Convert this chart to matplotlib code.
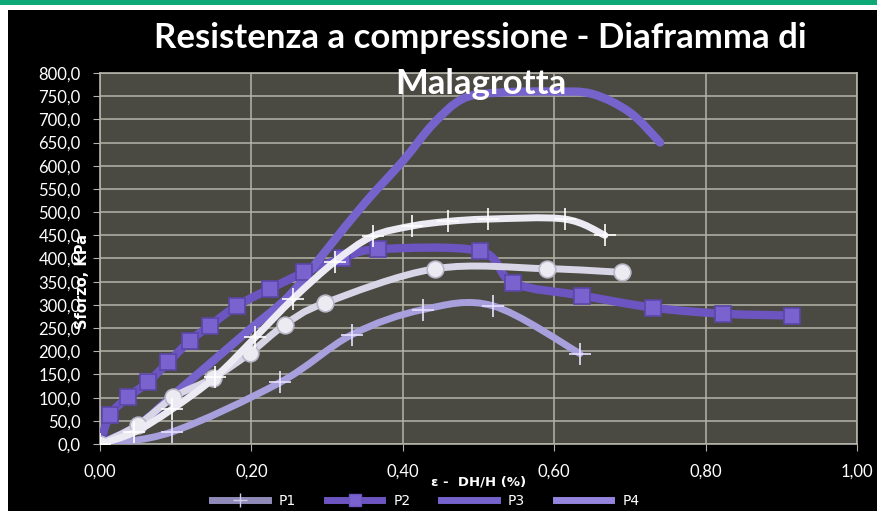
import matplotlib
matplotlib.use("Agg")
import matplotlib.pyplot as plt
import numpy as np
from matplotlib.path import Path
from matplotlib.patches import PathPatch, Rectangle
from matplotlib.lines import Line2D
from matplotlib.ticker import MultipleLocator, FuncFormatter

# valori
p1_x = [0, 0.095, 0.238, 0.333, 0.427, 0.519, 0.634]
p1_y = [0, 26, 133, 236, 290, 298, 195]

p2_x = [0, 0.013, 0.037, 0.063, 0.090, 0.119, 0.145, 0.181, 0.225, 0.27,
        0.32, 0.367, 0.502, 0.546, 0.637, 0.731, 0.823, 0.914]
p2_y = [0, 62, 101, 133, 176, 223, 255, 298, 335, 370,
        400, 420, 416, 347, 320, 294, 281, 277]

p3_x = [0, 0.05, 0.10, 0.15, 0.20, 0.25, 0.30, 0.35, 0.40, 0.44,
        0.48, 0.53, 0.60, 0.65, 0.70, 0.74]
p3_y = [0, 40, 110, 180, 250, 320, 420, 520, 610, 690,
        745, 758, 760, 755, 715, 650]

p5_x = [0, 0.05, 0.097, 0.149, 0.198, 0.244, 0.297, 0.443, 0.590, 0.69]
p5_y = [0, 41, 101, 142, 196, 257, 304, 378, 378, 370]

p6_x = [0, 0.045, 0.095, 0.152, 0.205, 0.255, 0.31, 0.36, 0.412, 0.46,
        0.513, 0.614, 0.667]
p6_y = [0, 25, 75, 144, 230, 313, 393, 448, 470, 480,
        485, 485, 450]


def smooth_path(xs, ys):
    # curva liscia tipo Excel (Catmull-Rom -> Bezier)
    p = np.column_stack([xs, ys]).astype(float)
    verts = [p[0]]
    codes = [Path.MOVETO]
    n = len(p)
    for i in range(n - 1):
        p0 = p[i - 1] if i > 0 else p[i]
        p1 = p[i]
        p2 = p[i + 1]
        p3 = p[i + 2] if i + 2 < n else p[i + 1]
        c1 = p1 + (p2 - p0) / 6.0
        c2 = p2 - (p3 - p1) / 6.0
        verts += [c1, c2, p2]
        codes += [Path.CURVE4] * 3
    return Path(verts, codes)


def serie(ax, xs, ys, color, lw, marker=None, ms=10, mfc=None, mec=None, z=3):
    ax.add_patch(PathPatch(smooth_path(xs, ys), fill=False, edgecolor=color,
                           lw=lw, capstyle='round', joinstyle='round', zorder=z))
    if marker:
        ax.plot(xs, ys, linestyle='none', marker=marker, ms=ms,
                mfc=mfc or color, mec=mec or color, mew=1.2, zorder=z + 0.5)


fig = plt.figure(figsize=(8.78, 5.11), dpi=100)
fig.patch.set_facecolor('white')
fig.patches.append(Rectangle((8 / 878, 0), 1, 501 / 511, transform=fig.transFigure,
                             facecolor='black', edgecolor='none', zorder=-5))
fig.patches.append(Rectangle((0, 506 / 511), 1, 5 / 511, transform=fig.transFigure,
                             facecolor='#0ea877', edgecolor='none', zorder=-5))

ax = fig.add_axes([100 / 878, 67 / 511, 757 / 878, 371 / 511])
ax.set_facecolor('#4a4a42')

ax.set_xlim(0, 1)
ax.set_ylim(0, 800)
ax.xaxis.set_major_locator(MultipleLocator(0.2))
ax.yaxis.set_major_locator(MultipleLocator(50))
ax.xaxis.set_major_formatter(FuncFormatter(lambda v, p: f"{v:.2f}".replace('.', ',')))
ax.yaxis.set_major_formatter(FuncFormatter(lambda v, p: f"{v:.1f}".replace('.', ',')))
ax.grid(True, color='#b4b4aa', lw=1.1, zorder=1)
ax.set_axisbelow(True)
for s in ax.spines.values():
    s.set_color('#b4b4aa')
    s.set_linewidth(1.2)
ax.tick_params(colors='#b4b4aa', length=5, labelcolor='white', labelsize=12)
ax.tick_params(axis='x', pad=9)
ax.tick_params(axis='y', pad=9)
for lab in ax.get_xticklabels() + ax.get_yticklabels():
    lab.set_family('Lato')

serie(ax, p2_x, p2_y, '#6c55c0', 6, marker='s', ms=12, mfc='#7a63cf', mec='#5b46a8', z=3)
serie(ax, p3_x, p3_y, '#7763cc', 6, z=3.2)
serie(ax, p1_x, p1_y, '#a7a0dc', 5, marker='+', ms=16, mec='#e6e2ff', z=4)
serie(ax, p5_x, p5_y, '#d8d6e6', 5, marker='o', ms=12, mfc='#ecebf2', mec='#b9b6c8', z=5)
serie(ax, p6_x, p6_y, '#ecebf4', 5, marker='+', ms=16, mec='white', z=6)

fig.text(480 / 878, 1 - 38 / 511, "Resistenza a compressione - Diaframma di",
         color='white', fontsize=25, fontweight='bold', family='Lato',
         ha='center', va='center', zorder=10)
fig.text(481 / 878, 1 - 84 / 511, "Malagrotta",
         color='white', fontsize=25, fontweight='bold', family='Lato',
         ha='center', va='center', zorder=10)

ax.set_xlabel("ε -  DH/H (%)", color='white', fontsize=9.5, fontweight='bold', labelpad=-3)
ax.set_ylabel("Sforzo, KPa", color='white', fontsize=10.5, fontweight='bold')
ax.yaxis.set_label_coords(-0.013, 0.437)

handles = [
    Line2D([], [], color='#8f8ab8', lw=5, marker='+', ms=10, mec='#cfcbe8'),
    Line2D([], [], color='#6c55c0', lw=5, marker='s', ms=8, mfc='#7a63cf'),
    Line2D([], [], color='#7763cc', lw=5),
    Line2D([], [], color='#9585dc', lw=5),
]
fig.legend(handles, ['P1', 'P2', 'P3', 'P4'], loc='upper center',
           bbox_to_anchor=(0.485, 0.058), ncol=4, frameon=False,
           labelcolor='white', fontsize=10, handlelength=4, columnspacing=2.2)

fig.savefig('out.png', dpi=100, facecolor=fig.get_facecolor())
